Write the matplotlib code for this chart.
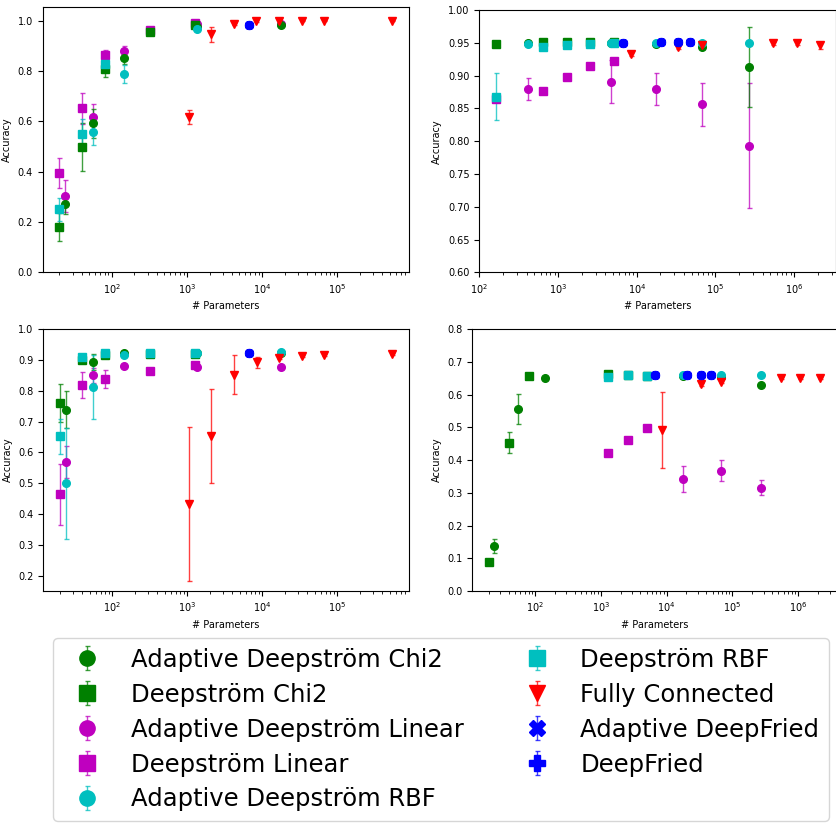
import numpy as np
import matplotlib
matplotlib.use("Agg")
import matplotlib.pyplot as plt
from matplotlib.colors import to_rgba

nan = np.nan

# number of parameters for each kind of model
deep_x_small = [20, 40, 80, 320, 1280]
adapt_x_small = [24, 56, 144, 1344, 17664]
deep_x_large = [160, 640, 1280, 2560, 5120]
adapt_x_large = [416, 4736, 17664, 68096, 267264]
deep_x_mixed = [20, 40, 80, 1280, 2560, 5120]
adapt_x_mixed = [24, 56, 144, 17664, 68096, 267264]
fc_x_small = [1050, 2100, 4200, 8400, 16800, 33600, 67200, 537600]
fc_x_large = [8400, 33600, 67200, 537600, 1075200, 2150400]
fried_x_small = [6700]
fried_x_large = [6760, 20200, 33600, 47600]

# top left panel
tl_ad_chi2 = [0.271, 0.592, 0.853, 0.976, 0.983]
tl_ad_chi2_err = [0.04, 0.057, 0.025, 0.005, 0.004]
tl_ds_chi2 = [0.181, 0.497, 0.807, 0.956, 0.983]
tl_ds_chi2_err = [0.055, 0.095, 0.033, 0.006, 0.005]
tl_ad_lin = [0.303, 0.616, 0.881, 0.987, 0.988]
tl_ad_lin_err = [0.063, 0.053, 0.02, 0.004, 0.003]
tl_ds_lin = [0.395, 0.651, 0.864, 0.962, 0.990]
tl_ds_lin_err = [0.06, 0.06, 0.02, 0.005, 0.004]
tl_ad_rbf = [nan, 0.556, 0.788, 0.966, nan]
tl_ad_rbf_err = [0.0, 0.05, 0.035, 0.005, 0.0]
tl_ds_rbf = [0.250, 0.548, 0.828, nan, nan]
tl_ds_rbf_err = [0.045, 0.06, 0.03, 0.0, 0.0]
tl_fc = [0.616, 0.946, 0.987, 0.999, 0.999, 0.999, 0.999, 0.999]
tl_fc_err = [0.027, 0.03, 0.005, 0.003, 0.002, 0.002, 0.002, 0.002]
tl_ad_fried = [0.984]
tl_fried = [0.984]
tl_fried_err = [0.003]

# top right panel
tr_ad_chi2 = [0.950, 0.950, 0.9487, 0.943, 0.9136]
tr_ad_chi2_err = [0.002, 0.002, 0.002, 0.003, 0.061]
tr_ds_chi2 = [0.9477, 0.9507, 0.951, 0.952, 0.951]
tr_ds_chi2_err = [0.002, 0.002, 0.002, 0.002, 0.002]
tr_ad_lin = [0.8795, 0.891, 0.8795, 0.856, 0.793]
tr_ad_lin_err = [0.017, 0.033, 0.025, 0.033, 0.095]
tr_ds_lin = [0.864, 0.8765, 0.898, 0.915, 0.923]
tr_ds_lin_err = [0.003, 0.003, 0.003, 0.003, 0.003]
tr_ad_rbf = [0.9477, 0.950, 0.950, 0.950, 0.949]
tr_ad_rbf_err = [0.002, 0.002, 0.002, 0.002, 0.002]
tr_ds_rbf = [0.868, 0.9436, 0.9466, 0.9477, 0.949]
tr_ds_rbf_err = [0.036, 0.002, 0.002, 0.002, 0.002]
tr_fc = [0.933, 0.943, 0.946, 0.949, 0.949, 0.946]
tr_fc_err = [0.003, 0.003, 0.003, 0.002, 0.002, 0.005]
tr_ad_fried = [0.950, 0.951, 0.951, 0.951]
tr_fried = [0.950, 0.951, 0.951, 0.951]
tr_fried_err = [0.002, 0.002, 0.002, 0.002]

# bottom left panel
bl_ad_chi2 = [0.738, 0.894, 0.922, 0.922, 0.922]
bl_ad_chi2_err = [0.06, 0.027, 0.004, 0.003, 0.003]
bl_ds_chi2 = [0.760, 0.900, 0.917, 0.921, 0.921]
bl_ds_chi2_err = [0.062, 0.01, 0.005, 0.003, 0.003]
bl_ad_lin = [0.570, 0.851, 0.882, 0.879, 0.876]
bl_ad_lin_err = [0.052, 0.024, 0.004, 0.004, 0.004]
bl_ds_lin = [0.464, 0.819, 0.838, 0.864, 0.883]
bl_ds_lin_err = [0.1, 0.043, 0.03, 0.004, 0.004]
bl_ad_rbf = [0.500, 0.812, 0.917, 0.924, 0.925]
bl_ad_rbf_err = [0.18, 0.104, 0.005, 0.003, 0.003]
bl_ds_rbf = [0.652, 0.911, 0.922, 0.922, 0.922]
bl_ds_rbf_err = [0.056, 0.006, 0.004, 0.003, 0.003]
bl_fc = [0.433, 0.654, 0.852, 0.893, 0.908, 0.913, 0.917, 0.921]
bl_fc_err = [0.25, 0.152, 0.063, 0.018, 0.006, 0.004, 0.003, 0.003]
bl_ad_fried = [0.922]
bl_fried = [0.922]
bl_fried_err = [0.003]

# bottom right panel
br_ad_chi2 = [0.1376, 0.5566, 0.650, 0.657, 0.653, 0.629]
br_ad_chi2_err = [0.02, 0.046, 0.004, 0.004, 0.004, 0.005]
br_ds_chi2 = [0.0887, 0.4536, 0.657, 0.662, 0.660, 0.658]
br_ds_chi2_err = [0.004, 0.032, 0.004, 0.003, 0.003, 0.003]
br_ad_lin = [nan, nan, nan, 0.3435, 0.368, 0.316]
br_ad_lin_err = [0.0, 0.0, 0.0, 0.04, 0.033, 0.024]
br_ds_lin = [nan, nan, nan, 0.421, 0.4618, 0.4995]
br_ds_lin_err = [0.0, 0.0, 0.0, 0.008, 0.006, 0.005]
br_ad_rbf = [nan, nan, nan, 0.6595, 0.6595, 0.6595]
br_ad_rbf_err = [0.0, 0.0, 0.0, 0.003, 0.003, 0.003]
br_ds_rbf = [nan, nan, nan, 0.653, 0.6595, 0.657]
br_ds_rbf_err = [0.0, 0.0, 0.0, 0.003, 0.003, 0.003]
br_fc = [0.492, 0.632, 0.640, 0.652, 0.652, 0.652]
br_fc_err = [0.117, 0.004, 0.004, 0.003, 0.003, 0.003]
br_ad_fried = [0.6595, 0.6595, 0.6595, 0.6595]
br_fried = [0.6595, 0.6595, 0.6595, 0.6595]
br_fried_err = [0.003, 0.003, 0.003, 0.003]

# label, color, marker (drawing order)
styles = [
    ('Adaptive Deepström Linear', 'm', 'o'),
    ('Deepström Linear', 'm', 's'),
    ('Adaptive Deepström Chi2', 'g', 'o'),
    ('Deepström Chi2', 'g', 's'),
    ('Adaptive Deepström RBF', 'c', 'o'),
    ('Deepström RBF', 'c', 's'),
    ('Fully Connected', 'r', 'v'),
    ('Adaptive DeepFried', 'b', 'X'),
    ('DeepFried', 'b', 'P'),
]
legend_order = ['Adaptive Deepström Chi2', 'Deepström Chi2',
                'Adaptive Deepström Linear', 'Deepström Linear',
                'Adaptive Deepström RBF', 'Deepström RBF',
                'Fully Connected', 'Adaptive DeepFried', 'DeepFried']


def panel(prefix, deep_x, adapt_x, fc_x, fried_x):
    g = globals()
    return [
        (adapt_x, g[prefix + '_ad_lin'], g[prefix + '_ad_lin_err']),
        (deep_x, g[prefix + '_ds_lin'], g[prefix + '_ds_lin_err']),
        (adapt_x, g[prefix + '_ad_chi2'], g[prefix + '_ad_chi2_err']),
        (deep_x, g[prefix + '_ds_chi2'], g[prefix + '_ds_chi2_err']),
        (adapt_x, g[prefix + '_ad_rbf'], g[prefix + '_ad_rbf_err']),
        (deep_x, g[prefix + '_ds_rbf'], g[prefix + '_ds_rbf_err']),
        (fc_x, g[prefix + '_fc'], g[prefix + '_fc_err']),
        (fried_x, g[prefix + '_ad_fried'], g[prefix + '_fried_err']),
        (fried_x, g[prefix + '_fried'], g[prefix + '_fried_err']),
    ]


panels = [
    (panel('tl', deep_x_small, adapt_x_small, fc_x_small, fried_x_small),
     [0.0510, 0.6695, 0.4373, 0.3223], (0.0, 1.055), 0.2, '%.1f'),
    (panel('tr', deep_x_large, adapt_x_large, fc_x_large, fried_x_large),
     [0.5726, 0.6695, 0.4268, 0.3183], (0.6, 1.0), 0.05, '%.2f'),
    (panel('bl', deep_x_small, adapt_x_small, fc_x_small, fried_x_small),
     [0.0517, 0.2828, 0.4366, 0.3176], (0.15, 1.0), 0.1, '%.1f'),
    (panel('br', deep_x_mixed, adapt_x_mixed, fc_x_large, fried_x_large),
     [0.5643, 0.2828, 0.4354, 0.3176], (0.0, 0.8), 0.1, '%.1f'),
]

fig = plt.figure(figsize=(8.37, 8.24), dpi=100)
handles = {}
for series, rect, ylim, ystep, yfmt in panels:
    ax = fig.add_axes(rect)
    for (x, y, err), (label, color, marker) in zip(series, styles):
        h = ax.errorbar(x, y, yerr=err, fmt=marker, color=color,
                        ecolor=to_rgba(color, 0.75), markersize=5.5,
                        capsize=1.8, elinewidth=1.0, capthick=1.0,
                        label=label)
        handles.setdefault(label, h)
    ax.set_xscale('log')
    ax.set_ylim(*ylim)
    ticks = np.arange(np.ceil(ylim[0] / ystep - 1e-6) * ystep, ylim[1] + 1e-6, ystep)
    ticks = np.round(ticks, 6) + 0.0
    ax.set_yticks(ticks)
    ax.set_yticklabels([yfmt % abs(t) for t in ticks])
    ax.tick_params(labelsize=7)
    ax.set_xlabel('# Parameters', fontsize=7)
    ax.set_ylabel('Accuracy', fontsize=7)

fig.legend([handles[l] for l in legend_order], legend_order,
           loc='upper center', bbox_to_anchor=(0.527, 0.2257), ncol=2,
           fontsize=17.5, markerscale=2, labelspacing=0.45,
           borderaxespad=0.0)

fig.savefig('out.png', dpi=100)
